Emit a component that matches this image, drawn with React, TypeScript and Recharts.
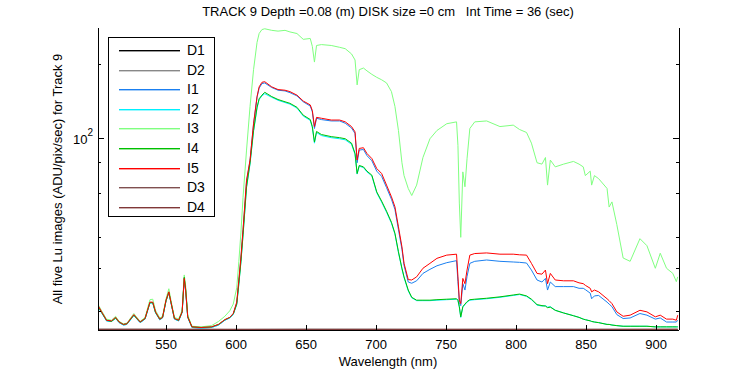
import { LineChart, Line, XAxis, YAxis, Legend } from 'recharts'

// wavelength (nm) sample points
const wavelengths = [
  501.5, 504, 507.5, 511, 514, 516.5, 519.5, 522, 527, 531.5,
  535, 538.5, 540.5, 542.5, 545.5, 547.5, 550, 552, 553.5, 556,
  559, 561.5, 563, 564, 565.5, 568.5, 575, 582.5, 587.5, 592,
  595.5, 598, 600.5, 602, 603.5, 605, 607.5, 610, 612.5, 615,
  616.5, 618.5, 620.5, 625.5, 630, 635, 638.5, 643.5, 648, 653,
  654.5, 656, 657.5, 661, 668, 674, 678, 682.5, 685, 686.5,
  688, 691, 693.5, 697, 700.5, 704, 707.5, 711, 713.5, 716,
  718.5, 720, 723, 725.5, 729, 733.5, 738.5, 743.5, 750.5, 757.5,
  758.5, 759.5, 760.5, 762, 763.5, 765, 767, 770.5, 779, 788.5,
  798, 802.5, 807.5, 811, 815, 818.5, 821, 822.5, 824.5, 828,
  834, 841, 845, 848, 849.5, 853, 854, 856, 859, 865,
  866.5, 868.5, 872, 876.5, 881.5, 888.5, 893.5, 899.5, 903, 907.5,
  912, 914.5, 915.5,
]

const i1 = [
  21.0, 19.9, 18.4, 18.3, 18.9, 18.1, 17.7, 17.8, 19.4, 18.1,
  18.7, 21.8, 21.8, 19.9, 18.6, 18.9, 22.2, 24.0, 21.8, 18.7,
  18.4, 19.9, 27.0, 24.3, 19.0, 17.3, 17.2, 17.3, 17.7, 18.5,
  18.9, 19.6, 21.7, 26.6, 33, 42.5, 67, 81.5, 114, 147,
  160, 167, 168, 161, 157, 156, 153.5, 149, 141, 135.5,
  128.5, 110, 121, 119.5, 118, 118, 115.5, 110.5, 105, 80,
  90, 90.5, 85.5, 81.5, 74, 70.5, 63.5, 57, 51.8, 43,
  35.8, 30.8, 26.4, 26.1, 26.7, 28.6, 29.7, 30.7, 31.6, 32.2,
  26.5, 21.8, 21.2, 26, 24.5, 27.8, 31.4, 32, 32.4, 32,
  31.8, 31.7, 31.5, 29.5, 26.9, 26.4, 27.3, 24.5, 26.4, 25.3,
  25.3, 25.3, 24.9, 24.9, 24.6, 23.8, 22.6, 23.2, 23.3, 21.9,
  21.5, 21, 19.5, 18.8, 18.9, 19.7, 19.4, 18.7, 18.9, 18.2,
  18.2, 18.2, 18.5,
]

const i2 = [
  20.9, 19.8, 18.4, 18.3, 18.8, 18.1, 17.7, 17.8, 19.3, 18.1,
  18.7, 21.7, 21.7, 19.8, 18.6, 18.9, 22.1, 23.9, 21.8, 18.7,
  18.4, 19.9, 27.4, 24.6, 19.0, 17.3, 17.2, 17.3, 17.7, 18.5,
  18.9, 19.5, 21.4, 25.8, 31.8, 40.7, 63.5, 79, 107, 133,
  144, 149, 152, 147, 143, 140, 138, 133, 123.5, 118.6,
  111, 96, 106, 103, 101, 100, 99, 95, 86.5, 72,
  77.5, 76.5, 73.5, 70.8, 60.5, 55.5, 50.5, 45.6, 41.2, 34.7,
  29.8, 27.5, 24.3, 22.8, 22.2, 22.2, 22.2, 22.3, 22.4, 22.5,
  22.2, 20.9, 19, 20.9, 21.4, 21.9, 22.3, 22.4, 22.6, 22.9,
  23.3, 23.5, 23.1, 22.4, 21.3, 21.1, 21.2, 20.9, 21, 20.3,
  19.8, 19.3, 19.0, 18.7, 18.6, 18.4, 18.3, 18.2, 18.1, 17.8,
  17.8, 17.7, 17.6, 17.5, 17.5, 17.5, 17.5, 17.4, 17.4, 17.4,
  17.4, 17.4, 17.4,
]

const i3 = [
  21.4, 20.2, 18.7, 18.5, 19.2, 18.3, 17.9, 18.0, 19.7, 18.3,
  19.0, 22.4, 22.5, 20.3, 18.9, 19.2, 22.6, 24.8, 22.3, 19.0,
  18.7, 20.3, 28.2, 25.5, 19.4, 17.5, 17.4, 17.6, 18.3, 19.2,
  20.2, 21.5, 25, 32, 42, 58, 90, 135, 190, 245,
  266, 276, 278, 274, 272, 274, 270, 266, 252, 254,
  236, 204, 238, 240, 238, 234, 231, 220, 208, 165,
  190, 193, 188, 182, 177, 173, 168, 155, 135, 108,
  80, 71, 63, 59, 65, 84, 100, 108, 115, 117,
  94, 55, 40, 73.5, 64, 83, 110, 117, 118, 112,
  113.5, 109, 106, 96, 80, 79, 84, 65, 82, 77,
  79, 81, 79, 77, 71, 74, 65, 71, 69, 63,
  53, 55.6, 45, 33, 32, 39.5, 37, 30, 34.5, 30,
  28.6, 26.5, 27.7,
]

const i4 = [
  21.0, 19.9, 18.5, 18.3, 18.9, 18.2, 17.8, 17.9, 19.4, 18.2,
  18.8, 21.8, 21.8, 19.9, 18.7, 19.0, 22.2, 24.0, 21.9, 18.8,
  18.5, 20.0, 27.6, 24.8, 19.1, 17.4, 17.3, 17.4, 17.8, 18.6,
  19.0, 19.6, 21.5, 26, 32, 41, 64, 80, 108, 134,
  145, 150, 154, 148, 144, 141, 139, 134, 124.5, 119.6,
  112, 97, 107, 104, 102, 101, 100, 96, 87.2, 72.4,
  78, 77, 74, 71.3, 61, 56, 51, 46, 41.5, 35,
  30, 27.7, 24.5, 22.9, 22.3, 22.3, 22.3, 22.4, 22.5, 22.6,
  22.3, 21, 19.1, 21, 21.5, 22, 22.4, 22.5, 22.7, 23.0,
  23.4, 23.6, 23.2, 22.5, 21.4, 21.2, 21.1, 20.8, 20.9, 20.3,
  19.8, 19.3, 19.0, 18.7, 18.6, 18.4, 18.3, 18.2, 18.1, 17.8,
  17.8, 17.7, 17.6, 17.5, 17.5, 17.5, 17.5, 17.4, 17.4, 17.4,
  17.4, 17.4, 17.4,
]

const i5 = [
  21.2, 20.0, 18.5, 18.4, 19.0, 18.2, 17.8, 17.9, 19.5, 18.2,
  18.8, 21.9, 21.9, 20.0, 18.7, 19.0, 22.3, 24.1, 21.9, 18.8,
  18.5, 20.0, 27.3, 24.5, 19.1, 17.4, 17.3, 17.4, 17.8, 18.6,
  19.0, 19.7, 21.9, 26.9, 33.3, 43, 68, 82, 115, 148,
  162, 169, 170, 162, 158, 157, 155, 150, 142, 137,
  130, 112, 122, 121, 119, 119, 117, 112, 106.6, 82,
  91.4, 92, 87.2, 83.2, 75.8, 72.4, 65, 58.3, 53.1, 44.1,
  36.6, 31.4, 27.0, 26.9, 27.7, 30, 31.4, 32.9, 33.9, 34.2,
  27.7, 22.3, 21.6, 27.3, 26, 29.5, 33.9, 34.4, 34.6, 34.2,
  34.2, 34.0, 33.9, 31.4, 28.6, 28.4, 29.5, 26, 28.6, 26.9,
  26.7, 26.7, 26.2, 26, 25.6, 24.9, 24.1, 24.5, 24.1, 22.6,
  22.2, 21.6, 20, 19.2, 19.4, 20.3, 20, 19.1, 19.4, 18.7,
  18.7, 18.5, 19.4,
]

// dark frames sit at the bottom of the log axis
const darkWave = [501.5, 550, 600, 650, 700, 750, 800, 850, 900, 915.5]
const d1 = [17.0, 17.0, 16.98, 17.0, 17.0, 16.98, 17.0, 17.0, 16.99, 17.0]
const d2 = [17.0, 16.99, 17.0, 17.0, 16.98, 17.0, 17.0, 16.99, 17.0, 17.0]
const d3 = [17.0, 17.0, 17.0, 16.99, 17.0, 17.0, 16.98, 17.0, 17.0, 17.0]
const d4 = [17.0, 17.0, 16.99, 17.0, 17.0, 17.0, 17.0, 16.98, 17.0, 17.0]

const xTicks = [550, 600, 650, 700, 750, 800, 850, 900]
const yTicks = [20, 30, 40, 50, 60, 70, 80, 90, 100, 200]

const seriesNames = ['D1', 'D2', 'I1', 'I2', 'I3', 'I4', 'I5', 'D3', 'D4']
const seriesColors = ['#000000', '#888888', '#1a7ff0', '#00f0ff', '#80ff80', '#00c000', '#ff0000', '#805050', '#803838']

const rows = wavelengths.map((w, i) => ({ w, I1: i1[i], I2: i2[i], I3: i3[i], I4: i4[i], I5: i5[i] }))
const darkRows = darkWave.map((w, i) => ({ w, D1: d1[i], D2: d2[i], D3: d3[i], D4: d4[i] }))

const FONT = 'Liberation Sans, Arial, sans-serif'

const BottomTick = ({ x, y, payload }: any) => (
  <g>
    <line x1={x} x2={x} y1={y} y2={y - 5} stroke="#000" shapeRendering="crispEdges" />
    <text x={x} y={y + 19} textAnchor="middle" fontSize={13} fontFamily={FONT} fill="#000">
      {payload.value}
    </text>
  </g>
)

const TopTick = ({ x, y }: any) => (
  <line x1={x} x2={x} y1={y} y2={y + 5} stroke="#000" shapeRendering="crispEdges" />
)

const LeftTick = ({ x, y, payload }: any) => {
  const major = payload.value === 100
  return (
    <g>
      <line x1={x} x2={x + (major ? 6 : 3)} y1={y} y2={y} stroke="#000" shapeRendering="crispEdges" />
      {major && (
        <text x={x - 5} y={y + 5} textAnchor="end" fontSize={13} fontFamily={FONT} fill="#000">
          10<tspan fontSize={10} dy={-8}>2</tspan>
        </text>
      )}
    </g>
  )
}

const RightTick = ({ x, y, payload }: any) => {
  const major = payload.value === 100
  return <line x1={x} x2={x - (major ? 6 : 3)} y1={y} y2={y} stroke="#000" shapeRendering="crispEdges" />
}

const LegendBox = () => (
  <svg width={108} height={181} style={{ display: 'block' }}>
    <rect x={0.5} y={0.5} width={106} height={179} fill="#fff" stroke="#000" shapeRendering="crispEdges" />
    {seriesNames.map((name, i) => {
      const ly = Math.round(13 + i * 19.6)
      return (
        <g key={name}>
          <rect x={11} y={ly} width={61} height={1.4} fill={seriesColors[i]} />
          <text x={79} y={ly + 5} fontSize={14} fontFamily={FONT} fill="#000">{name}</text>
        </g>
      )
    })}
  </svg>
)

export default function App() {
  return (
    <div style={{ position: 'absolute', left: 0, top: 0, width: 750, height: 375, background: '#fff' }}>
      <LineChart width={750} height={375} data={rows} margin={{ top: 28, right: 0, bottom: 0, left: 0 }}>
        <XAxis
          dataKey="w"
          type="number"
          domain={[501.4, 916.4]}
          allowDataOverflow
          ticks={xTicks}
          tick={<BottomTick />}
          tickLine={false}
          tickSize={0}
          tickMargin={0}
          height={45}
          axisLine={{ stroke: '#000', shapeRendering: 'crispEdges' }}
        />
        <XAxis
          xAxisId="top"
          dataKey="w"
          type="number"
          orientation="top"
          domain={[501.4, 916.4]}
          allowDataOverflow
          ticks={xTicks}
          tick={<TopTick />}
          tickLine={false}
          tickSize={0}
          tickMargin={0}
          height={0}
          axisLine={{ stroke: '#000', shapeRendering: 'crispEdges' }}
        />
        <YAxis
          scale="log"
          type="number"
          domain={[16.9, 280]}
          allowDataOverflow
          ticks={yTicks}
          tick={<LeftTick />}
          tickLine={false}
          tickSize={0}
          tickMargin={0}
          width={98}
          axisLine={{ stroke: '#000', shapeRendering: 'crispEdges' }}
        />
        <YAxis
          yAxisId="right"
          orientation="right"
          scale="log"
          type="number"
          domain={[16.9, 280]}
          allowDataOverflow
          ticks={yTicks}
          tick={<RightTick />}
          tickLine={false}
          tickSize={0}
          tickMargin={0}
          width={71}
          axisLine={{ stroke: '#000', shapeRendering: 'crispEdges' }}
        />
        <Legend
          layout="horizontal"
          verticalAlign="middle"
          align="center"
          content={<LegendBox />}
          wrapperStyle={{ left: 108, top: 37, width: 108, height: 181 }}
        />
        <Line data={darkRows} dataKey="D1" stroke={seriesColors[0]} dot={false} strokeWidth={1} isAnimationActive={false} />
        <Line data={darkRows} dataKey="D2" stroke={seriesColors[1]} dot={false} strokeWidth={1} isAnimationActive={false} />
        <Line dataKey="I1" stroke={seriesColors[2]} dot={false} strokeWidth={1} isAnimationActive={false} />
        <Line dataKey="I2" stroke={seriesColors[3]} dot={false} strokeWidth={1} isAnimationActive={false} />
        <Line dataKey="I3" stroke={seriesColors[4]} dot={false} strokeWidth={1} isAnimationActive={false} />
        <Line dataKey="I4" stroke={seriesColors[5]} dot={false} strokeWidth={1} isAnimationActive={false} />
        <Line dataKey="I5" stroke={seriesColors[6]} dot={false} strokeWidth={1} isAnimationActive={false} />
        <Line data={darkRows} dataKey="D3" stroke={seriesColors[7]} dot={false} strokeWidth={1} isAnimationActive={false} />
        <Line data={darkRows} dataKey="D4" stroke={seriesColors[8]} dot={false} strokeWidth={1} isAnimationActive={false} />
        <text x={388} y={16} textAnchor="middle" fontSize={13} fontFamily={FONT} fill="#000" style={{ whiteSpace: 'pre' }}>
          {'TRACK 9 Depth =0.08 (m) DISK size =0 cm   Int Time = 36 (sec)'}
        </text>
        <text x={388} y={366} textAnchor="middle" fontSize={13} fontFamily={FONT} fill="#000">
          Wavelength (nm)
        </text>
        <text
          x={62}
          y={179}
          textAnchor="middle"
          fontSize={13}
          fontFamily={FONT}
          fill="#000"
          transform="rotate(-90 62 179)"
        >
          All five Lu images (ADU/pix/sec) for Track 9
        </text>
      </LineChart>
    </div>
  )
}
